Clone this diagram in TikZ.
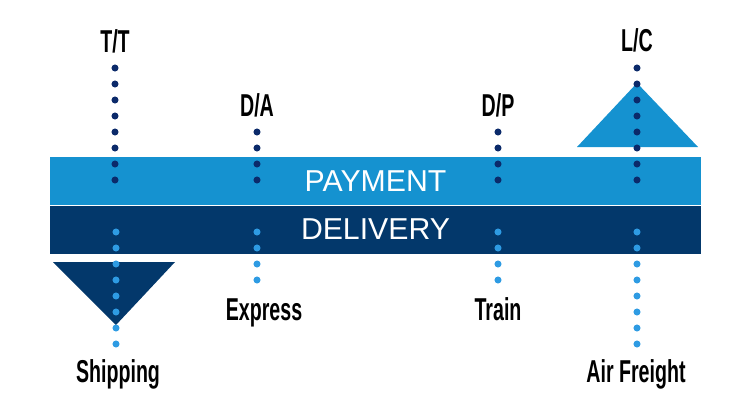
\documentclass[tikz,border=0pt]{standalone}
\usepackage{fontspec}
\setmainfont{Liberation Sans}
\newfontfamily\condfont[FakeStretch=0.62]{Liberation Sans}
\usetikzlibrary{positioning}
\definecolor{payBlue}{HTML}{1592D0}
\definecolor{navyBlue}{HTML}{03386B}
\definecolor{darkDot}{HTML}{0B2A6A}
\definecolor{lightDot}{HTML}{2E9BE3}

\begin{document}
\begin{tikzpicture}[
        x=0.025cm, y=-0.025cm,
        bandNode/.style={rectangle, inner sep=0pt, minimum width=16.275cm, minimum height=1.2cm, text=white, font=\fontsize{21.5}{24}\selectfont},
        termNode/.style={anchor=base, inner sep=0pt, font=\condfont\bfseries\fontsize{22.5}{24}\selectfont},
        darkDots/.style={fill=darkDot},
        lightDots/.style={fill=lightDot}
    ]
        \useasboundingbox (0,0) rectangle (750,420);

        % bands
        \node[bandNode, fill=payBlue] (payment) at (375.5,181) {PAYMENT};
        \node[bandNode, fill=navyBlue, below=0pt of payment] (delivery) {DELIVERY};

        % triangles
        \fill[navyBlue] (53,262) -- (175,262) -- (116,325) -- cycle;
        \fill[payBlue] (577,147) -- (698,147) -- (637,83) -- cycle;

        % terms
        \node[termNode] (tt) at (115,53) {T/T};
        \node[termNode] (da) at (257,117) {D/A};
        \node[termNode] (dp) at (498,117) {D/P};
        \node[termNode] (lc) at (637,52) {L/C};
        \node[termNode] (shipping) at (118,382) {Shipping};
        \node[termNode] (express) at (264,320) {Express};
        \node[termNode] (train) at (498,320) {Train};
        \node[termNode] (airFreight) at (636,382) {Air Freight};

        % dotted columns
        \foreach \y in {68,84,...,180} {
            \fill[darkDots] (115,\y) circle[radius=2.5pt];
            \fill[darkDots] (637,\y) circle[radius=2.5pt];
        }
        \foreach \y in {132,148,...,180} {
            \fill[darkDots] (257,\y) circle[radius=2.5pt];
            \fill[darkDots] (498,\y) circle[radius=2.5pt];
        }
        \foreach \y in {232,248,...,344} {
            \fill[lightDots] (116,\y) circle[radius=2.5pt];
            \fill[lightDots] (637,\y) circle[radius=2.5pt];
        }
        \foreach \y in {232,248,...,280} {
            \fill[lightDots] (257,\y) circle[radius=2.5pt];
            \fill[lightDots] (498,\y) circle[radius=2.5pt];
        }
    \end{tikzpicture}
\end{document}
